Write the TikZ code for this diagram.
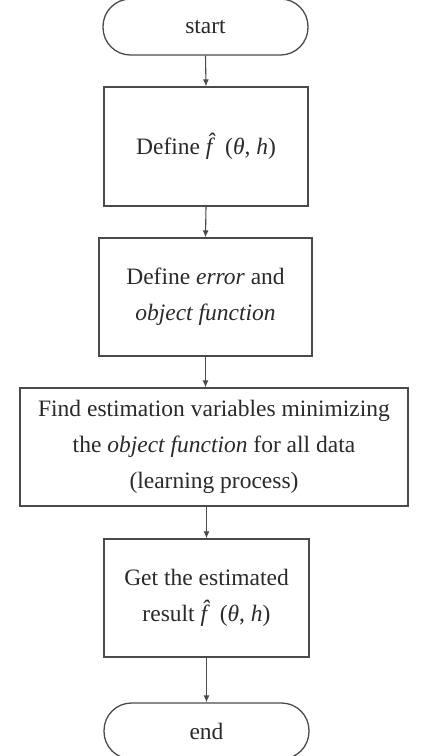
\documentclass[tikz,border=0pt]{standalone}
\usepackage{fontspec}
\setmainfont{Liberation Serif}
\usetikzlibrary{arrows.meta}
\definecolor{linec}{HTML}{4A4A4A}
\definecolor{textc}{HTML}{2A2A2A}
\newcommand{\fth}{\textit{\^{f}}\,(\textit{θ}, \textit{h})}
\begin{document}
\begin{tikzpicture}[x=1pt,y=-1pt,
  every node/.style={text=textc, font=\fontsize{23.5}{36}\selectfont, align=center, inner sep=0pt},
  procbox/.style={draw=linec, line width=1.3pt},
  termbox/.style={draw=linec, line width=1.3pt, rounded corners=27.5pt, minimum width=205pt, minimum height=56pt},
  flow/.style={draw=linec, line width=1.1pt, -{Latex[length=7pt,width=6pt]}}]
\useasboundingbox (0,0) rectangle (421,756);
\node[termbox] (start) at (205.5,27) {start};
\node[procbox, minimum width=204pt, minimum height=119pt] (def) at (206,146.5) {Define \fth};
\node[procbox, minimum width=213pt, minimum height=118pt] (err) at (205.5,297) {Define \textit{error} and\\\textit{object function}};
\node[procbox, minimum width=388pt, minimum height=118pt] (find) at (214,447) {Find estimation variables minimizing\\the \textit{object function} for all data\\(learning process)};
\node[procbox, minimum width=205pt, minimum height=118pt] (get) at (206.5,598) {Get the estimated\\result \fth};
\node[termbox] (end) at (206.5,731) {end};
\draw[flow] (start.south) -- (def.north);
\draw[flow] (def.south) -- (err.north);
\draw[flow] (err.south) -- (err.south |- find.north);
\draw[flow] (find.south -| get.north) -- (get.north);
\draw[flow] (get.south) -- (end.north);
\end{tikzpicture}
\end{document}
